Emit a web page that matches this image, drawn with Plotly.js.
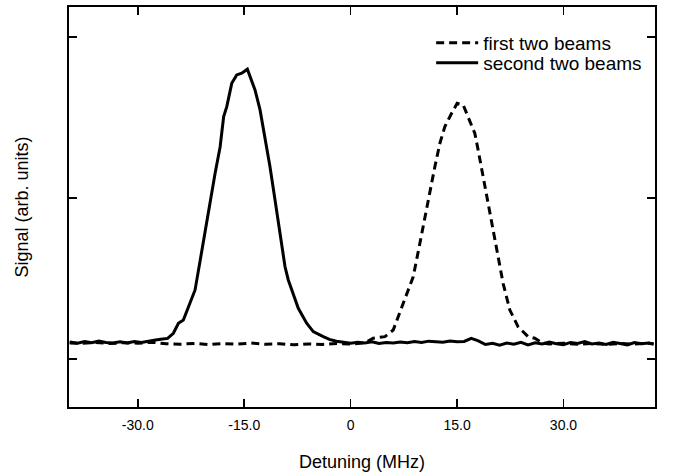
<!DOCTYPE html>
<html>
<head>
<meta charset="utf-8">
<script src="https://cdn.plot.ly/plotly-3.0.1.min.js"></script>
<style>html,body{margin:0;padding:0;background:#fff;}#chart{width:673px;height:472px;}</style>
</head>
<body>
<div id="chart"></div>
<script>
// Detuning (MHz) and signal (arb. units)
const secondX = [-39.6,-38.5,-37.5,-36.5,-35.5,-34.5,-33.5,-32.5,-31.5,-30.5,-29.5,-28.5,-27.5,-26.5,-25.8,
  -24.99,-24.28,-23.58,-22.63,-21.93,-21.2,-20.5,-19.8,-19.1,-18.4,-17.9,-17.46,-16.76,-16.06,-15.35,-14.56,-14.18,-13.48,-12.77,-12.07,-11.37,-10.66,-9.96,-9.25,-8.79,-8.08,-7.38,-6.2,-5.27,-3.86,
  -3.0,-2.0,-1.0,0,1,2,3,4,5,6,7,8,9,10,11,12,13,14,15,16,17,18,19,20,21,22,23,24,25,26,27,28,29,30,31,32,33,34,35,36,37,38,39,40,41,42,42.7];
const secondY = [0.105,0.098,0.108,0.101,0.112,0.103,0.099,0.107,0.100,0.109,0.102,0.112,0.118,0.124,0.128,
  0.16,0.222,0.242,0.346,0.429,0.615,0.80,0.97,1.155,1.317,1.505,1.567,1.712,1.764,1.775,1.80,1.753,1.671,1.547,1.381,1.194,0.988,0.783,0.573,0.491,0.408,0.315,0.222,0.17,0.139,
  0.122,0.110,0.103,0.098,0.104,0.100,0.107,0.096,0.103,0.099,0.105,0.101,0.108,0.103,0.111,0.106,0.104,0.112,0.107,0.109,0.128,0.113,0.090,0.097,0.086,0.099,0.092,0.104,0.088,0.101,0.093,0.106,0.095,0.089,0.103,0.097,0.108,0.094,0.100,0.091,0.104,0.096,0.087,0.102,0.095,0.099,0.092];

const firstX = [-39.6,-38,-36,-34,-32,-30,-28,-26,-24,-22,-20,-18,-16,-14,-12,-10,-8,-6,-4,-2,0,2,
  3.18,4.83,6.0,7.41,8.82,9.76,10.46,11.17,11.87,12.58,13.28,14.23,15.01,15.86,16.56,17.5,17.97,18.68,19.38,20.08,20.79,21.49,22.44,23.61,25.01,25.96,
  27,28,30,32,34,36,38,40,42,42.7];
const firstY = [0.100,0.097,0.103,0.096,0.101,0.098,0.104,0.095,0.092,0.097,0.090,0.096,0.093,0.099,0.091,0.095,0.088,0.094,0.090,0.097,0.093,0.100,
  0.129,0.139,0.18,0.346,0.511,0.719,0.884,1.05,1.194,1.34,1.443,1.526,1.588,1.578,1.505,1.402,1.298,1.132,0.988,0.801,0.635,0.47,0.304,0.2,0.139,0.129,
  0.100,0.094,0.098,0.092,0.097,0.090,0.096,0.093,0.098,0.095];

const xTickVals = [-30, -15, 0, 15, 30];
const xTickText = ['-30.0', '-15.0', '0', '15.0', '30.0'];
const yTickVals = [0, 1, 2];

const font = 'Liberation Sans, Arial, Helvetica, sans-serif';

const traces = [
  {x: firstX, y: firstY, type: 'scatter', mode: 'lines', name: 'first two beams',
   line: {color: '#000', width: 3, dash: '8px,5px'}, legend: 'legend'},
  {x: secondX, y: secondY, type: 'scatter', mode: 'lines', name: 'second two beams',
   line: {color: '#000', width: 3}, legend: 'legend2'}
];

const legendBase = {xanchor: 'left', yanchor: 'middle', bgcolor: 'rgba(0,0,0,0)',
  font: {size: 19, family: font}, itemwidth: 42};

const layout = {
  width: 673, height: 472,
  margin: {l: 69, r: 18, t: 7, b: 65},
  paper_bgcolor: '#fff', plot_bgcolor: '#fff',
  font: {family: font, color: '#000', size: 14},
  showlegend: true,
  legend: Object.assign({}, legendBase, {x: 0.618, y: 0.91}),
  legend2: Object.assign({}, legendBase, {x: 0.618, y: 0.86}),
  xaxis: {
    range: [-39.7, 42.9], showgrid: false, zeroline: false,
    showline: true, linecolor: '#000', linewidth: 2, mirror: 'ticks',
    ticks: 'inside', ticklen: 8, tickwidth: 1.5, tickcolor: '#000',
    tickvals: xTickVals, ticktext: xTickText, ticklabelstandoff: 4,
    tickfont: {size: 14, family: font},
    title: {text: 'Detuning (MHz)', font: {size: 18, family: font}, standoff: 26}
  },
  yaxis: {
    range: [-0.298, 2.186], showgrid: false, zeroline: false,
    showline: true, linecolor: '#000', linewidth: 2, mirror: 'ticks',
    ticks: 'inside', ticklen: 8, tickwidth: 1.5, tickcolor: '#000',
    tickvals: yTickVals, showticklabels: false,
    title: {text: 'Signal (arb. units)', font: {size: 18, family: font}, standoff: 34}
  }
};

Plotly.newPlot('chart', traces, layout, {displayModeBar: false, staticPlot: true});
</script>
</body>
</html>
